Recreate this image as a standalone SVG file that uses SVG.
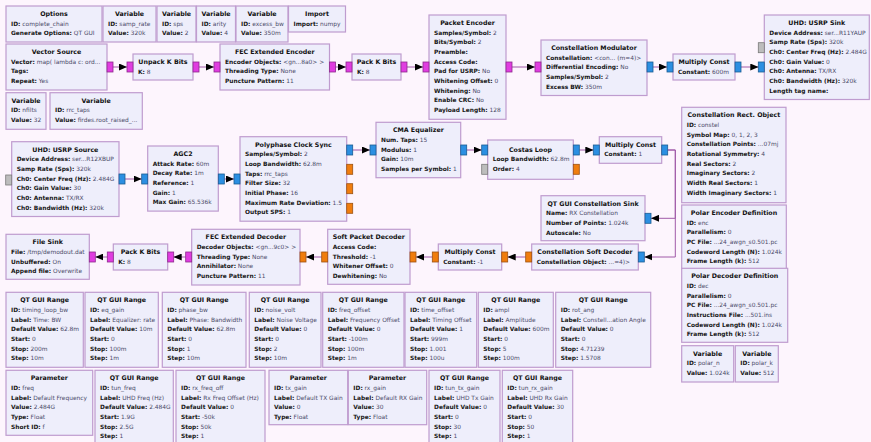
<svg xmlns="http://www.w3.org/2000/svg" width="871" height="442" viewBox="0 0 871 442">
<style>
  .bg { fill: #fdf5fd; }
  .blk > rect.b { fill: #eeeefb; stroke: #bf9ccf; stroke-width: 1.2; }
  text { font-family: "DejaVu Sans", "Liberation Sans", sans-serif; }
  .t { font-size: 6.3px; font-weight: bold; fill: #111; text-anchor: middle; }
  .p { font-size: 5.9px; fill: #4a4a68; }
  .k { font-weight: bold; fill: #161616; }
  .pb { fill: #e03de0; stroke: #8c2a8c; stroke-width: 0.8; }
  .pc { fill: #2c8fe2; stroke: #1b5c92; stroke-width: 0.8; }
  .pf { fill: #f07d0e; stroke: #9c5212; stroke-width: 0.8; }
  .pm { fill: #bdbdbd; stroke: #7a7a7a; stroke-width: 0.8; }
  .wire { fill: none; stroke: #a05aa8; stroke-width: 1; marker-end: url(#ah); }
</style>
<defs>
  <marker id="ah" viewBox="0 0 8 7" refX="8" refY="3.5" markerWidth="8" markerHeight="7" orient="auto" markerUnits="userSpaceOnUse">
    <path d="M0,0 L8,3.5 L0,7 z" fill="#000"/>
  </marker>
</defs>
<rect class="bg" x="0" y="0" width="871" height="442"/>

<!-- connections -->
<g id="connections">
  <path class="wire" d="M112.5,67 H127"/>
  <path class="wire" d="M199,67 H214"/>
  <path class="wire" d="M335.5,67 H346"/>
  <path class="wire" d="M407,67 H423"/>
  <path class="wire" d="M512,67 H535"/>
  <path class="wire" d="M653,67 H667"/>
  <path class="wire" d="M741,67 H758.3"/>
  <path class="wire" d="M125,179 H141.7"/>
  <path class="wire" d="M224.3,179 H234"/>
  <path class="wire" d="M352.7,150 H370"/>
  <path class="wire" d="M466.7,150 H481.7"/>
  <path class="wire" d="M579.3,150 H593.3"/>
  <path class="wire" d="M667.7,150 H675.3 V218.3 H651"/>
  <path class="wire" d="M667.7,150 H675.3 V257 H644.3"/>
  <path class="wire" d="M525.7,257 H507.7"/>
  <path class="wire" d="M432.3,257 H416"/>
  <path class="wire" d="M321.7,257 H306"/>
  <path class="wire" d="M185.7,257 H173.7"/>
  <path class="wire" d="M107.3,257 H95.3"/>
</g>

<!-- top row: options and variables -->
<g id="options" class="blk" transform="translate(6,6)">
  <rect class="b" width="96" height="36"/>
  <text class="t" x="48" y="10">Options</text>
  <text class="p" x="5" y="19.7"><tspan class="k">ID:</tspan> complete_chain</text>
  <text class="p" x="5" y="29.3"><tspan class="k">Generate Options:</tspan> QT GUI</text>
</g>
<g id="var_samp_rate" class="blk" transform="translate(103,6)">
  <rect class="b" width="53" height="36"/>
  <text class="t" x="26.5" y="10">Variable</text>
  <text class="p" x="5" y="19.7"><tspan class="k">ID:</tspan> samp_rate</text>
  <text class="p" x="5" y="29.3"><tspan class="k">Value:</tspan> 320k</text>
</g>
<g id="var_sps" class="blk" transform="translate(157,6)">
  <rect class="b" width="39" height="36"/>
  <text class="t" x="19.5" y="10">Variable</text>
  <text class="p" x="5" y="19.7"><tspan class="k">ID:</tspan> sps</text>
  <text class="p" x="5" y="29.3"><tspan class="k">Value:</tspan> 2</text>
</g>
<g id="var_arity" class="blk" transform="translate(196.5,6)">
  <rect class="b" width="39" height="36"/>
  <text class="t" x="19.5" y="10">Variable</text>
  <text class="p" x="5" y="19.7"><tspan class="k">ID:</tspan> arity</text>
  <text class="p" x="5" y="29.3"><tspan class="k">Value:</tspan> 4</text>
</g>
<g id="var_excess_bw" class="blk" transform="translate(236,6)">
  <rect class="b" width="52" height="36"/>
  <text class="t" x="26" y="10">Variable</text>
  <text class="p" x="5" y="19.7"><tspan class="k">ID:</tspan> excess_bw</text>
  <text class="p" x="5" y="29.3"><tspan class="k">Value:</tspan> 350m</text>
</g>
<g id="import_numpy" class="blk" transform="translate(288.5,6)">
  <rect class="b" width="57" height="26"/>
  <text class="t" x="28.5" y="10">Import</text>
  <text class="p" x="5" y="19.7"><tspan class="k">Import:</tspan> numpy</text>
</g>

<!-- transmit chain -->
<g id="vector_source" class="blk" transform="translate(6,44)">
  <rect class="b" width="101" height="46"/>
  <text class="t" x="50.5" y="10">Vector Source</text>
  <text class="p" x="5" y="19.7"><tspan class="k">Vector:</tspan> map( lambda c: ord...</text>
  <text class="p" x="5" y="29.3"><tspan class="k">Tags:</tspan></text>
  <text class="p" x="5" y="39"><tspan class="k">Repeat:</tspan> Yes</text>
  <rect class="pb" x="101" y="18" width="6" height="10"/>
</g>
<g id="unpack_k_bits" class="blk" transform="translate(133,54)">
  <rect class="b" width="60" height="26"/>
  <text class="t" x="30" y="10">Unpack K Bits</text>
  <text class="p" x="5" y="19.7"><tspan class="k">K:</tspan> 8</text>
  <rect class="pb" x="-6" y="8" width="6" height="10"/>
  <rect class="pb" x="60" y="8" width="6" height="10"/>
</g>
<g id="fec_extended_encoder" class="blk" transform="translate(220,44)">
  <rect class="b" width="109.5" height="46"/>
  <text class="t" x="54.75" y="10">FEC Extended Encoder</text>
  <text class="p" x="5" y="19.7"><tspan class="k">Encoder Objects:</tspan> &lt;gn...8a0&gt; &gt;</text>
  <text class="p" x="5" y="29.3"><tspan class="k">Threading Type:</tspan> None</text>
  <text class="p" x="5" y="39"><tspan class="k">Puncture Pattern:</tspan> 11</text>
  <rect class="pb" x="-6" y="18" width="6" height="10"/>
  <rect class="pb" x="109.5" y="18" width="6" height="10"/>
</g>
<g id="pack_k_bits_tx" class="blk" transform="translate(352,54)">
  <rect class="b" width="49" height="26"/>
  <text class="t" x="24.5" y="10">Pack K Bits</text>
  <text class="p" x="5" y="19.7"><tspan class="k">K:</tspan> 8</text>
  <rect class="pb" x="-6" y="8" width="6" height="10"/>
  <rect class="pb" x="49" y="8" width="6" height="10"/>
</g>
<g id="packet_encoder" class="blk" transform="translate(429,15)">
  <rect class="b" width="77" height="104.3"/>
  <text class="t" x="38.5" y="10">Packet Encoder</text>
  <text class="p" x="5" y="19.7"><tspan class="k">Samples/Symbol:</tspan> 2</text>
  <text class="p" x="5" y="29.3"><tspan class="k">Bits/Symbol:</tspan> 2</text>
  <text class="p" x="5" y="39"><tspan class="k">Preamble:</tspan></text>
  <text class="p" x="5" y="48.7"><tspan class="k">Access Code:</tspan></text>
  <text class="p" x="5" y="58.4"><tspan class="k">Pad for USRP:</tspan> No</text>
  <text class="p" x="5" y="68"><tspan class="k">Whitening Offset:</tspan> 0</text>
  <text class="p" x="5" y="77.7"><tspan class="k">Whitening:</tspan> No</text>
  <text class="p" x="5" y="87.4"><tspan class="k">Enable CRC:</tspan> No</text>
  <text class="p" x="5" y="97"><tspan class="k">Payload Length:</tspan> 128</text>
  <rect class="pb" x="-6" y="47" width="6" height="10"/>
  <rect class="pb" x="77" y="47" width="6" height="10"/>
</g>
<g id="constellation_modulator" class="blk" transform="translate(541,40)">
  <rect class="b" width="106" height="55.5"/>
  <text class="t" x="53" y="10">Constellation Modulator</text>
  <text class="p" x="5" y="19.7"><tspan class="k">Constellation:</tspan> &lt;con... (m=4)&gt;</text>
  <text class="p" x="5" y="29.3"><tspan class="k">Differential Encoding:</tspan> No</text>
  <text class="p" x="5" y="39"><tspan class="k">Samples/Symbol:</tspan> 2</text>
  <text class="p" x="5" y="48.7"><tspan class="k">Excess BW:</tspan> 350m</text>
  <rect class="pb" x="-6" y="22" width="6" height="10"/>
  <rect class="pc" x="106" y="22" width="6" height="10"/>
</g>
<g id="multiply_const_tx" class="blk" transform="translate(673,54)">
  <rect class="b" width="62" height="26"/>
  <text class="t" x="31" y="10">Multiply Const</text>
  <text class="p" x="5" y="19.7"><tspan class="k">Constant:</tspan> 600m</text>
  <rect class="pc" x="-6" y="8" width="6" height="10"/>
  <rect class="pc" x="62" y="8" width="6" height="10"/>
</g>
<g id="usrp_sink" class="blk" transform="translate(764.3,15)">
  <rect class="b" width="105" height="84.5"/>
  <text class="t" x="52.5" y="10">UHD: USRP Sink</text>
  <text class="p" x="5" y="19.7"><tspan class="k">Device Address:</tspan> ser...R11YAUP</text>
  <text class="p" x="5" y="29.3"><tspan class="k">Samp Rate (Sps):</tspan> 320k</text>
  <text class="p" x="5" y="39"><tspan class="k">Ch0: Center Freq (Hz):</tspan> 2.484G</text>
  <text class="p" x="5" y="48.7"><tspan class="k">Ch0: Gain Value:</tspan> 0</text>
  <text class="p" x="5" y="58.4"><tspan class="k">Ch0: Antenna:</tspan> TX/RX</text>
  <text class="p" x="5" y="68"><tspan class="k">Ch0: Bandwidth (Hz):</tspan> 320k</text>
  <text class="p" x="5" y="77.7"><tspan class="k">Length tag name:</tspan></text>
  <rect class="pm" x="-6" y="27.7" width="6" height="10"/>
  <rect class="pc" x="-6" y="47" width="6" height="10"/>
</g>

<g id="var_nfilts" class="blk" transform="translate(6,92.7)">
  <rect class="b" width="40" height="36.6"/>
  <text class="t" x="20" y="10">Variable</text>
  <text class="p" x="5" y="19.7"><tspan class="k">ID:</tspan> nfilts</text>
  <text class="p" x="5" y="29.3"><tspan class="k">Value:</tspan> 32</text>
</g>
<g id="var_rrc_taps" class="blk" transform="translate(50,92.7)">
  <rect class="b" width="92.3" height="36.6"/>
  <text class="t" x="46.15" y="10">Variable</text>
  <text class="p" x="5" y="19.7"><tspan class="k">ID:</tspan> rrc_taps</text>
  <text class="p" x="5" y="29.3"><tspan class="k">Value:</tspan> firdes.root_raised_...</text>
</g>

<!-- receive chain -->
<g id="usrp_source" class="blk" transform="translate(11.7,141.7)">
  <rect class="b" width="107.3" height="74.8"/>
  <text class="t" x="53.65" y="10">UHD: USRP Source</text>
  <text class="p" x="5" y="19.7"><tspan class="k">Device Address:</tspan> ser...R12XBUP</text>
  <text class="p" x="5" y="29.3"><tspan class="k">Samp Rate (Sps):</tspan> 320k</text>
  <text class="p" x="5" y="39"><tspan class="k">Ch0: Center Freq (Hz):</tspan> 2.484G</text>
  <text class="p" x="5" y="48.7"><tspan class="k">Ch0: Gain Value:</tspan> 30</text>
  <text class="p" x="5" y="58.4"><tspan class="k">Ch0: Antenna:</tspan> TX/RX</text>
  <text class="p" x="5" y="68"><tspan class="k">Ch0: Bandwidth (Hz):</tspan> 320k</text>
  <rect class="pm" x="-6" y="33.3" width="6" height="10"/>
  <rect class="pc" x="107.3" y="32.3" width="6" height="10"/>
</g>
<g id="agc2" class="blk" transform="translate(147.7,146)">
  <rect class="b" width="70.6" height="65.1"/>
  <text class="t" x="35.3" y="10">AGC2</text>
  <text class="p" x="5" y="19.7"><tspan class="k">Attack Rate:</tspan> 60m</text>
  <text class="p" x="5" y="29.3"><tspan class="k">Decay Rate:</tspan> 1m</text>
  <text class="p" x="5" y="39"><tspan class="k">Reference:</tspan> 1</text>
  <text class="p" x="5" y="48.7"><tspan class="k">Gain:</tspan> 1</text>
  <text class="p" x="5" y="58.4"><tspan class="k">Max Gain:</tspan> 65.536k</text>
  <rect class="pc" x="-6" y="28" width="6" height="10"/>
  <rect class="pc" x="70.6" y="28" width="6" height="10"/>
</g>
<g id="polyphase_clock_sync" class="blk" transform="translate(240,136.7)">
  <rect class="b" width="106.7" height="84.5"/>
  <text class="t" x="53.35" y="10">Polyphase Clock Sync</text>
  <text class="p" x="5" y="19.7"><tspan class="k">Samples/Symbol:</tspan> 2</text>
  <text class="p" x="5" y="29.3"><tspan class="k">Loop Bandwidth:</tspan> 62.8m</text>
  <text class="p" x="5" y="39"><tspan class="k">Taps:</tspan> rrc_taps</text>
  <text class="p" x="5" y="48.7"><tspan class="k">Filter Size:</tspan> 32</text>
  <text class="p" x="5" y="58.4"><tspan class="k">Initial Phase:</tspan> 16</text>
  <text class="p" x="5" y="68"><tspan class="k">Maximum Rate Deviation:</tspan> 1.5</text>
  <text class="p" x="5" y="77.7"><tspan class="k">Output SPS:</tspan> 1</text>
  <rect class="pc" x="-6" y="37.3" width="6" height="10"/>
  <rect class="pc" x="106.7" y="8.3" width="6" height="10"/>
  <rect class="pf" x="106.7" y="27.6" width="6" height="10"/>
  <rect class="pf" x="106.7" y="47" width="6" height="10"/>
  <rect class="pf" x="106.7" y="66.6" width="6" height="10"/>
</g>
<g id="cma_equalizer" class="blk" transform="translate(376,122.3)">
  <rect class="b" width="84.7" height="55.4"/>
  <text class="t" x="42.35" y="10">CMA Equalizer</text>
  <text class="p" x="5" y="19.7"><tspan class="k">Num. Taps:</tspan> 15</text>
  <text class="p" x="5" y="29.3"><tspan class="k">Modulus:</tspan> 1</text>
  <text class="p" x="5" y="39"><tspan class="k">Gain:</tspan> 10m</text>
  <text class="p" x="5" y="48.7"><tspan class="k">Samples per Symbol:</tspan> 1</text>
  <rect class="pc" x="-6" y="22.7" width="6" height="10"/>
  <rect class="pc" x="84.7" y="22.7" width="6" height="10"/>
</g>
<g id="costas_loop" class="blk" transform="translate(487.7,140)">
  <rect class="b" width="85.6" height="39.3"/>
  <text class="t" x="42.8" y="11.6">Costas Loop</text>
  <text class="p" x="5" y="21.3"><tspan class="k">Loop Bandwidth:</tspan> 62.8m</text>
  <text class="p" x="5" y="31"><tspan class="k">Order:</tspan> 4</text>
  <rect class="pc" x="-6" y="5" width="6" height="10"/>
  <rect class="pm" x="-6" y="24.3" width="6" height="10"/>
  <rect class="pc" x="85.6" y="5" width="6" height="10"/>
  <rect class="pf" x="85.6" y="24.3" width="6" height="10"/>
</g>
<g id="multiply_const_rx" class="blk" transform="translate(599.3,136.7)">
  <rect class="b" width="62.4" height="26.6"/>
  <text class="t" x="31.2" y="10">Multiply Const</text>
  <text class="p" x="5" y="19.7"><tspan class="k">Constant:</tspan> 1</text>
  <rect class="pc" x="-6" y="8.3" width="6" height="10"/>
  <rect class="pc" x="62.4" y="8.3" width="6" height="10"/>
</g>

<!-- polar code definitions -->
<g id="constellation_rect_object" class="blk" transform="translate(681.7,107.3)">
  <rect class="b" width="104.3" height="95.4"/>
  <text class="t" x="52.15" y="10">Constellation Rect. Object</text>
  <text class="p" x="5" y="19.7"><tspan class="k">ID:</tspan> constel</text>
  <text class="p" x="5" y="29.3"><tspan class="k">Symbol Map:</tspan> 0, 1, 2, 3</text>
  <text class="p" x="5" y="39"><tspan class="k">Constellation Points:</tspan> ...07mj</text>
  <text class="p" x="5" y="48.7"><tspan class="k">Rotational Symmetry:</tspan> 4</text>
  <text class="p" x="5" y="58.4"><tspan class="k">Real Sectors:</tspan> 2</text>
  <text class="p" x="5" y="68"><tspan class="k">Imaginary Sectors:</tspan> 2</text>
  <text class="p" x="5" y="77.7"><tspan class="k">Width Real Sectors:</tspan> 1</text>
  <text class="p" x="5" y="87.4"><tspan class="k">Width Imaginary Sectors:</tspan> 1</text>
</g>
<g id="polar_encoder_def" class="blk" transform="translate(681.7,205)">
  <rect class="b" width="104.6" height="64"/>
  <text class="t" x="52.3" y="10">Polar Encoder Definition</text>
  <text class="p" x="5" y="19.7"><tspan class="k">ID:</tspan> enc</text>
  <text class="p" x="5" y="29.3"><tspan class="k">Parallelism:</tspan> 0</text>
  <text class="p" x="5" y="39"><tspan class="k">PC File:</tspan> ...24_awgn_s0.501.pc</text>
  <text class="p" x="5" y="48.7"><tspan class="k">Codeword Length (N):</tspan> 1.024k</text>
  <text class="p" x="5" y="58.4"><tspan class="k">Frame Length (k):</tspan> 512</text>
</g>
<g id="polar_decoder_def" class="blk" transform="translate(681.7,268.3)">
  <rect class="b" width="106" height="74"/>
  <text class="t" x="53" y="10">Polar Decoder Definition</text>
  <text class="p" x="5" y="19.7"><tspan class="k">ID:</tspan> dec</text>
  <text class="p" x="5" y="29.3"><tspan class="k">Parallelism:</tspan> 0</text>
  <text class="p" x="5" y="39"><tspan class="k">PC File:</tspan> ...24_awgn_s0.501.pc</text>
  <text class="p" x="5" y="48.7"><tspan class="k">Instructions File:</tspan> ...501.ins</text>
  <text class="p" x="5" y="58.4"><tspan class="k">Codeword Length (N):</tspan> 1.024k</text>
  <text class="p" x="5" y="68"><tspan class="k">Frame Length (k):</tspan> 512</text>
</g>
<g id="var_polar_n" class="blk" transform="translate(681.7,345.7)">
  <rect class="b" width="52" height="36.3"/>
  <text class="t" x="26" y="10">Variable</text>
  <text class="p" x="5" y="19.7"><tspan class="k">ID:</tspan> polar_n</text>
  <text class="p" x="5" y="29.3"><tspan class="k">Value:</tspan> 1.024k</text>
</g>
<g id="var_polar_k" class="blk" transform="translate(735.3,345.7)">
  <rect class="b" width="43" height="36.3"/>
  <text class="t" x="21.5" y="10">Variable</text>
  <text class="p" x="5" y="19.7"><tspan class="k">ID:</tspan> polar_k</text>
  <text class="p" x="5" y="29.3"><tspan class="k">Value:</tspan> 512</text>
</g>

<!-- decoding chain (flows right to left) -->
<g id="qt_constellation_sink" class="blk" transform="translate(541,195.7)">
  <rect class="b" width="104" height="45"/>
  <text class="t" x="52" y="10">QT GUI Constellation Sink</text>
  <text class="p" x="5" y="19.7"><tspan class="k">Name:</tspan> RX Constellation</text>
  <text class="p" x="5" y="29.3"><tspan class="k">Number of Points:</tspan> 1.024k</text>
  <text class="p" x="5" y="39"><tspan class="k">Autoscale:</tspan> No</text>
  <rect class="pc" x="104" y="17.6" width="6" height="10"/>
</g>
<g id="constellation_soft_decoder" class="blk" transform="translate(531.7,244)">
  <rect class="b" width="106.6" height="26"/>
  <text class="t" x="53.3" y="10">Constellation Soft Decoder</text>
  <text class="p" x="5" y="19.7"><tspan class="k">Constellation Object:</tspan> ...=4)&gt;</text>
  <rect class="pc" x="106.6" y="8" width="6" height="10"/>
  <rect class="pf" x="-6" y="8" width="6" height="10"/>
</g>
<g id="multiply_const_neg" class="blk" transform="translate(438.3,244)">
  <rect class="b" width="63.4" height="26"/>
  <text class="t" x="31.7" y="10">Multiply Const</text>
  <text class="p" x="5" y="19.7"><tspan class="k">Constant:</tspan> -1</text>
  <rect class="pf" x="63.4" y="8" width="6" height="10"/>
  <rect class="pf" x="-6" y="8" width="6" height="10"/>
</g>
<g id="soft_packet_decoder" class="blk" transform="translate(327.7,229.3)">
  <rect class="b" width="82.3" height="55"/>
  <text class="t" x="41.15" y="10">Soft Packet Decoder</text>
  <text class="p" x="5" y="19.7"><tspan class="k">Access Code:</tspan></text>
  <text class="p" x="5" y="29.3"><tspan class="k">Threshold:</tspan> -1</text>
  <text class="p" x="5" y="39"><tspan class="k">Whitener Offset:</tspan> 0</text>
  <text class="p" x="5" y="48.7"><tspan class="k">Dewhitening:</tspan> No</text>
  <rect class="pf" x="82.3" y="22.7" width="6" height="10"/>
  <rect class="pf" x="-6" y="22.7" width="6" height="10"/>
</g>
<g id="fec_extended_decoder" class="blk" transform="translate(191.7,229.3)">
  <rect class="b" width="108.3" height="55.7"/>
  <text class="t" x="54.15" y="10">FEC Extended Decoder</text>
  <text class="p" x="5" y="19.7"><tspan class="k">Decoder Objects:</tspan> &lt;gn...9c0&gt; &gt;</text>
  <text class="p" x="5" y="29.3"><tspan class="k">Threading Type:</tspan> None</text>
  <text class="p" x="5" y="39"><tspan class="k">Annihilator:</tspan> None</text>
  <text class="p" x="5" y="48.7"><tspan class="k">Puncture Pattern:</tspan> 11</text>
  <rect class="pf" x="108.3" y="22.7" width="6" height="10"/>
  <rect class="pb" x="-6" y="22.7" width="6" height="10"/>
</g>
<g id="pack_k_bits_rx" class="blk" transform="translate(113.3,244)">
  <rect class="b" width="54.4" height="26"/>
  <text class="t" x="27.2" y="10">Pack K Bits</text>
  <text class="p" x="5" y="19.7"><tspan class="k">K:</tspan> 8</text>
  <rect class="pb" x="54.4" y="8" width="6" height="10"/>
  <rect class="pb" x="-6" y="8" width="6" height="10"/>
</g>
<g id="file_sink" class="blk" transform="translate(6,234.3)">
  <rect class="b" width="83.3" height="45"/>
  <text class="t" x="41.65" y="10">File Sink</text>
  <text class="p" x="5" y="19.7"><tspan class="k">File:</tspan> /tmp/demodout.dat</text>
  <text class="p" x="5" y="29.3"><tspan class="k">Unbuffered:</tspan> On</text>
  <text class="p" x="5" y="39"><tspan class="k">Append file:</tspan> Overwrite</text>
  <rect class="pb" x="83.3" y="17.7" width="6" height="10"/>
</g>

<!-- GUI controls, first row -->
<g id="rng_timing_loop_bw" class="blk" transform="translate(6,292.3)">
  <rect class="b" width="77.3" height="75"/>
  <text class="t" x="38.65" y="10">QT GUI Range</text>
  <text class="p" x="5" y="19.7"><tspan class="k">ID:</tspan> timing_loop_bw</text>
  <text class="p" x="5" y="29.3"><tspan class="k">Label:</tspan> Time: BW</text>
  <text class="p" x="5" y="39"><tspan class="k">Default Value:</tspan> 62.8m</text>
  <text class="p" x="5" y="48.7"><tspan class="k">Start:</tspan> 0</text>
  <text class="p" x="5" y="58.4"><tspan class="k">Stop:</tspan> 200m</text>
  <text class="p" x="5" y="68"><tspan class="k">Step:</tspan> 10m</text>
</g>
<g id="rng_eq_gain" class="blk" transform="translate(85,292.3)">
  <rect class="b" width="73.3" height="75"/>
  <text class="t" x="36.65" y="10">QT GUI Range</text>
  <text class="p" x="5" y="19.7"><tspan class="k">ID:</tspan> eq_gain</text>
  <text class="p" x="5" y="29.3"><tspan class="k">Label:</tspan> Equalizer: rate</text>
  <text class="p" x="5" y="39"><tspan class="k">Default Value:</tspan> 10m</text>
  <text class="p" x="5" y="48.7"><tspan class="k">Start:</tspan> 0</text>
  <text class="p" x="5" y="58.4"><tspan class="k">Stop:</tspan> 100m</text>
  <text class="p" x="5" y="68"><tspan class="k">Step:</tspan> 1m</text>
</g>
<g id="rng_phase_bw" class="blk" transform="translate(162.3,292.3)">
  <rect class="b" width="83.7" height="75"/>
  <text class="t" x="41.85" y="10">QT GUI Range</text>
  <text class="p" x="5" y="19.7"><tspan class="k">ID:</tspan> phase_bw</text>
  <text class="p" x="5" y="29.3"><tspan class="k">Label:</tspan> Phase: Bandwidth</text>
  <text class="p" x="5" y="39"><tspan class="k">Default Value:</tspan> 62.8m</text>
  <text class="p" x="5" y="48.7"><tspan class="k">Start:</tspan> 0</text>
  <text class="p" x="5" y="58.4"><tspan class="k">Stop:</tspan> 1</text>
  <text class="p" x="5" y="68"><tspan class="k">Step:</tspan> 10m</text>
</g>
<g id="rng_noise_volt" class="blk" transform="translate(249.3,292.3)">
  <rect class="b" width="71.7" height="75"/>
  <text class="t" x="35.85" y="10">QT GUI Range</text>
  <text class="p" x="5" y="19.7"><tspan class="k">ID:</tspan> noise_volt</text>
  <text class="p" x="5" y="29.3"><tspan class="k">Label:</tspan> Noise Voltage</text>
  <text class="p" x="5" y="39"><tspan class="k">Default Value:</tspan> 0</text>
  <text class="p" x="5" y="48.7"><tspan class="k">Start:</tspan> 0</text>
  <text class="p" x="5" y="58.4"><tspan class="k">Stop:</tspan> 2</text>
  <text class="p" x="5" y="68"><tspan class="k">Step:</tspan> 10m</text>
</g>
<g id="rng_freq_offset" class="blk" transform="translate(322.7,292.3)">
  <rect class="b" width="81.3" height="75"/>
  <text class="t" x="40.65" y="10">QT GUI Range</text>
  <text class="p" x="5" y="19.7"><tspan class="k">ID:</tspan> freq_offset</text>
  <text class="p" x="5" y="29.3"><tspan class="k">Label:</tspan> Frequency Offset</text>
  <text class="p" x="5" y="39"><tspan class="k">Default Value:</tspan> 0</text>
  <text class="p" x="5" y="48.7"><tspan class="k">Start:</tspan> -100m</text>
  <text class="p" x="5" y="58.4"><tspan class="k">Stop:</tspan> 100m</text>
  <text class="p" x="5" y="68"><tspan class="k">Step:</tspan> 1m</text>
</g>
<g id="rng_time_offset" class="blk" transform="translate(405,292.3)">
  <rect class="b" width="71.7" height="75"/>
  <text class="t" x="35.85" y="10">QT GUI Range</text>
  <text class="p" x="5" y="19.7"><tspan class="k">ID:</tspan> time_offset</text>
  <text class="p" x="5" y="29.3"><tspan class="k">Label:</tspan> Timing Offset</text>
  <text class="p" x="5" y="39"><tspan class="k">Default Value:</tspan> 1</text>
  <text class="p" x="5" y="48.7"><tspan class="k">Start:</tspan> 999m</text>
  <text class="p" x="5" y="58.4"><tspan class="k">Stop:</tspan> 1.001</text>
  <text class="p" x="5" y="68"><tspan class="k">Step:</tspan> 100u</text>
</g>
<g id="rng_ampl" class="blk" transform="translate(478.3,292.3)">
  <rect class="b" width="75" height="75"/>
  <text class="t" x="37.5" y="10">QT GUI Range</text>
  <text class="p" x="5" y="19.7"><tspan class="k">ID:</tspan> ampl</text>
  <text class="p" x="5" y="29.3"><tspan class="k">Label:</tspan> Amplitude</text>
  <text class="p" x="5" y="39"><tspan class="k">Default Value:</tspan> 600m</text>
  <text class="p" x="5" y="48.7"><tspan class="k">Start:</tspan> 0</text>
  <text class="p" x="5" y="58.4"><tspan class="k">Stop:</tspan> 5</text>
  <text class="p" x="5" y="68"><tspan class="k">Step:</tspan> 100m</text>
</g>
<g id="rng_rot_ang" class="blk" transform="translate(555.7,292.3)">
  <rect class="b" width="95" height="75"/>
  <text class="t" x="47.5" y="10">QT GUI Range</text>
  <text class="p" x="5" y="19.7"><tspan class="k">ID:</tspan> rot_ang</text>
  <text class="p" x="5" y="29.3"><tspan class="k">Label:</tspan> Constell...ation Angle</text>
  <text class="p" x="5" y="39"><tspan class="k">Default Value:</tspan> 0</text>
  <text class="p" x="5" y="48.7"><tspan class="k">Start:</tspan> 0</text>
  <text class="p" x="5" y="58.4"><tspan class="k">Stop:</tspan> 4.71239</text>
  <text class="p" x="5" y="68"><tspan class="k">Step:</tspan> 1.5708</text>
</g>

<!-- GUI controls and parameters, second row -->
<g id="param_freq" class="blk" transform="translate(6,370.3)">
  <rect class="b" width="86.7" height="65"/>
  <text class="t" x="43.35" y="10">Parameter</text>
  <text class="p" x="5" y="19.7"><tspan class="k">ID:</tspan> freq</text>
  <text class="p" x="5" y="29.3"><tspan class="k">Label:</tspan> Default Frequency</text>
  <text class="p" x="5" y="39"><tspan class="k">Value:</tspan> 2.484G</text>
  <text class="p" x="5" y="48.7"><tspan class="k">Type:</tspan> Float</text>
  <text class="p" x="5" y="58.4"><tspan class="k">Short ID:</tspan> f</text>
</g>
<g id="rng_tun_freq" class="blk" transform="translate(95,370.3)">
  <rect class="b" width="78.3" height="75"/>
  <text class="t" x="39.15" y="10">QT GUI Range</text>
  <text class="p" x="5" y="19.7"><tspan class="k">ID:</tspan> tun_freq</text>
  <text class="p" x="5" y="29.3"><tspan class="k">Label:</tspan> UHD Freq (Hz)</text>
  <text class="p" x="5" y="39"><tspan class="k">Default Value:</tspan> 2.484G</text>
  <text class="p" x="5" y="48.7"><tspan class="k">Start:</tspan> 1.9G</text>
  <text class="p" x="5" y="58.4"><tspan class="k">Stop:</tspan> 2.5G</text>
  <text class="p" x="5" y="68"><tspan class="k">Step:</tspan> 1</text>
</g>
<g id="rng_rx_freq_off" class="blk" transform="translate(176,370.3)">
  <rect class="b" width="89" height="75"/>
  <text class="t" x="44.5" y="10">QT GUI Range</text>
  <text class="p" x="5" y="19.7"><tspan class="k">ID:</tspan> rx_freq_off</text>
  <text class="p" x="5" y="29.3"><tspan class="k">Label:</tspan> Rx Freq Offset (Hz)</text>
  <text class="p" x="5" y="39"><tspan class="k">Default Value:</tspan> 0</text>
  <text class="p" x="5" y="48.7"><tspan class="k">Start:</tspan> -50k</text>
  <text class="p" x="5" y="58.4"><tspan class="k">Stop:</tspan> 50k</text>
  <text class="p" x="5" y="68"><tspan class="k">Step:</tspan> 1</text>
</g>
<g id="param_tx_gain" class="blk" transform="translate(269,370.3)">
  <rect class="b" width="78.7" height="54.4"/>
  <text class="t" x="39.35" y="10">Parameter</text>
  <text class="p" x="5" y="19.7"><tspan class="k">ID:</tspan> tx_gain</text>
  <text class="p" x="5" y="29.3"><tspan class="k">Label:</tspan> Default TX Gain</text>
  <text class="p" x="5" y="39"><tspan class="k">Value:</tspan> 0</text>
  <text class="p" x="5" y="48.7"><tspan class="k">Type:</tspan> Float</text>
</g>
<g id="param_rx_gain" class="blk" transform="translate(348.3,370.3)">
  <rect class="b" width="78.4" height="54.4"/>
  <text class="t" x="39.2" y="10">Parameter</text>
  <text class="p" x="5" y="19.7"><tspan class="k">ID:</tspan> rx_gain</text>
  <text class="p" x="5" y="29.3"><tspan class="k">Label:</tspan> Default RX Gain</text>
  <text class="p" x="5" y="39"><tspan class="k">Value:</tspan> 30</text>
  <text class="p" x="5" y="48.7"><tspan class="k">Type:</tspan> Float</text>
</g>
<g id="rng_tun_tx_gain" class="blk" transform="translate(429,370.3)">
  <rect class="b" width="71" height="75"/>
  <text class="t" x="35.5" y="10">QT GUI Range</text>
  <text class="p" x="5" y="19.7"><tspan class="k">ID:</tspan> tun_tx_gain</text>
  <text class="p" x="5" y="29.3"><tspan class="k">Label:</tspan> UHD Tx Gain</text>
  <text class="p" x="5" y="39"><tspan class="k">Default Value:</tspan> 0</text>
  <text class="p" x="5" y="48.7"><tspan class="k">Start:</tspan> 0</text>
  <text class="p" x="5" y="58.4"><tspan class="k">Stop:</tspan> 30</text>
  <text class="p" x="5" y="68"><tspan class="k">Step:</tspan> 1</text>
</g>
<g id="rng_tun_rx_gain" class="blk" transform="translate(502.3,370.3)">
  <rect class="b" width="70.4" height="75"/>
  <text class="t" x="35.2" y="10">QT GUI Range</text>
  <text class="p" x="5" y="19.7"><tspan class="k">ID:</tspan> tun_rx_gain</text>
  <text class="p" x="5" y="29.3"><tspan class="k">Label:</tspan> UHD Rx Gain</text>
  <text class="p" x="5" y="39"><tspan class="k">Default Value:</tspan> 30</text>
  <text class="p" x="5" y="48.7"><tspan class="k">Start:</tspan> 0</text>
  <text class="p" x="5" y="58.4"><tspan class="k">Stop:</tspan> 50</text>
  <text class="p" x="5" y="68"><tspan class="k">Step:</tspan> 1</text>
</g>
</svg>
